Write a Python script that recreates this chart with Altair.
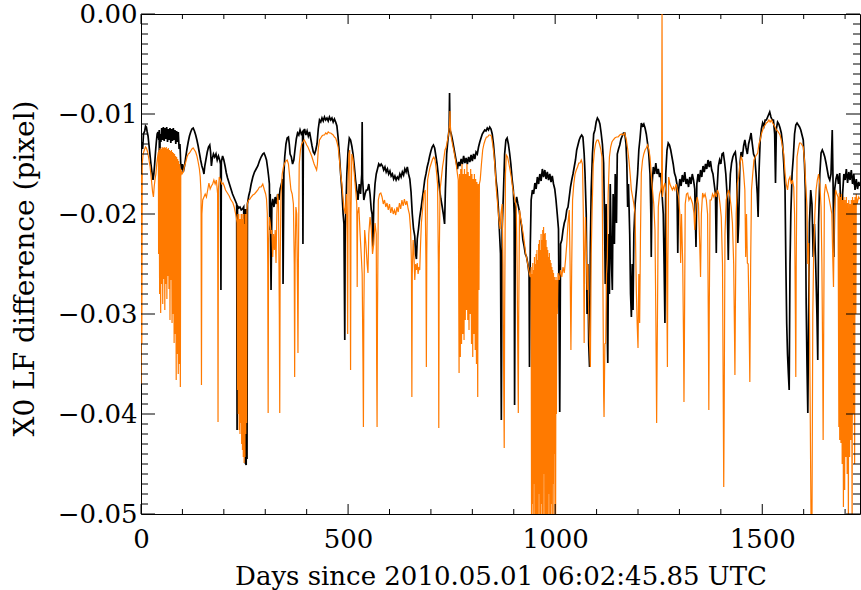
import altair as alt
import pandas as pd

# ---------------- data (day, X0 LF difference) ----------------
black_seg1 = [
    (0, -0.0141), (2, -0.0128), (4, -0.0135), (6, -0.0120), (9, -0.0117), (11, -0.0112), (13, -0.0113),
    (15, -0.0118), (17, -0.0122), (19, -0.0130), (21, -0.0138), (24, -0.0150), (27, -0.0160), (29, -0.0166),
    (31, -0.0160), (33, -0.0150), (35, -0.0138), (37, -0.0128), (39, -0.0120), (41, -0.0118), (43, -0.0126),
    (44, -0.0116), (45, -0.0233), (46, -0.0120), (48, -0.0128), (50, -0.0114), (52, -0.0126), (54, -0.0113),
    (56, -0.0127), (58, -0.0114), (60, -0.0125), (62, -0.0113), (64, -0.0128), (66, -0.0115), (68, -0.0126),
    (70, -0.0114), (72, -0.0129), (74, -0.0115), (76, -0.0127), (78, -0.0114), (80, -0.0126), (82, -0.0116),
    (84, -0.0130), (86, -0.0117), (88, -0.0128), (90, -0.0118), (92, -0.0135), (94, -0.0130), (96, -0.0150),
    (98, -0.0156), (100, -0.0150), (102, -0.0158), (105, -0.0152), (108, -0.0143), (111, -0.0135),
    (114, -0.0128), (117, -0.0122), (120, -0.0118), (123, -0.0115), (126, -0.0114), (129, -0.0117),
    (132, -0.0121), (135, -0.0126), (138, -0.0132), (141, -0.0139), (144, -0.0146), (147, -0.0152),
    (150, -0.0156), (152, -0.0160), (154, -0.0152), (157, -0.0145), (160, -0.0138), (163, -0.0133),
    (166, -0.0131), (168, -0.0138), (170, -0.0152), (172, -0.0145), (175, -0.0140), (178, -0.0143),
    (181, -0.0140), (184, -0.0146), (187, -0.0142), (190, -0.0146), (192, -0.0150), (193, -0.0276),
    (194, -0.0148), (197, -0.0142), (200, -0.0146), (203, -0.0152), (206, -0.0159), (209, -0.0164),
    (212, -0.0168), (215, -0.0172), (218, -0.0176), (221, -0.0180), (224, -0.0183), (227, -0.0186),
    (230, -0.0189), (231, -0.0190), (232, -0.0416), (233, -0.0192), (236, -0.0194), (239, -0.0193),
    (242, -0.0196), (245, -0.0195), (248, -0.0193), (250, -0.0440), (251, -0.0195), (252, -0.0449),
    (254, -0.0451), (255, -0.0195), (256, -0.0445), (257, -0.0190), (260, -0.0182), (263, -0.0177),
    (266, -0.0170), (270, -0.0163), (274, -0.0158), (278, -0.0155), (282, -0.0152), (286, -0.0147),
    (290, -0.0143), (294, -0.0140), (297, -0.0139), (300, -0.0142),
]
black_seg2 = [
    (303, -0.0146), (306, -0.0155), (308, -0.0162), (310, -0.0170), (311, -0.0216), (312, -0.0180),
    (314, -0.0276), (316, -0.0190), (318, -0.0185), (321, -0.0193), (324, -0.0183), (327, -0.0190),
    (330, -0.0180), (333, -0.0186), (336, -0.0175), (339, -0.0170), (342, -0.0165), (343, -0.0270),
    (345, -0.0160), (347, -0.0143), (350, -0.0130), (353, -0.0124), (356, -0.0123), (358, -0.0130),
    (360, -0.0140), (363, -0.0143), (366, -0.0150), (369, -0.0146), (372, -0.0135), (375, -0.0125),
    (378, -0.0119), (381, -0.0121), (384, -0.0116), (387, -0.0120), (390, -0.0118), (391, -0.0230),
    (392, -0.0120), (395, -0.0115), (398, -0.0121), (401, -0.0117), (404, -0.0122), (407, -0.0118),
    (410, -0.0125), (413, -0.0132), (416, -0.0138), (419, -0.0140), (422, -0.0136), (425, -0.0130),
    (428, -0.0115), (431, -0.0106), (434, -0.0108), (437, -0.0104), (440, -0.0107), (443, -0.0103),
    (446, -0.0106), (449, -0.0104), (452, -0.0107), (455, -0.0103), (458, -0.0106), (461, -0.0104),
    (464, -0.0108), (467, -0.0105), (470, -0.0108), (473, -0.0112), (476, -0.0124), (479, -0.0140),
    (482, -0.0160), (485, -0.0176), (488, -0.0200), (490, -0.0210), (492, -0.0326), (493, -0.0215),
    (495, -0.0190), (497, -0.0160), (500, -0.0136), (503, -0.0124), (506, -0.0126), (509, -0.0132),
    (512, -0.0140), (515, -0.0152), (518, -0.0166), (521, -0.0176), (524, -0.0186), (527, -0.0170),
    (530, -0.0180), (533, -0.0160), (534, -0.0108), (535, -0.0165), (538, -0.0186), (541, -0.0180),
    (544, -0.0176), (547, -0.0176), (550, -0.0170), (553, -0.0180), (556, -0.0196), (558, -0.0200),
    (560, -0.0233), (562, -0.0190), (565, -0.0170), (568, -0.0160), (571, -0.0155), (574, -0.0150),
    (577, -0.0152), (580, -0.0150),
]
black_seg3 = [
    (583, -0.0152), (586, -0.0156), (589, -0.0153), (592, -0.0158), (595, -0.0155), (598, -0.0160),
    (601, -0.0157), (604, -0.0162), (607, -0.0160), (610, -0.0165), (613, -0.0162), (616, -0.0166),
    (619, -0.0163), (622, -0.0165), (625, -0.0160), (628, -0.0163), (631, -0.0158), (634, -0.0161),
    (637, -0.0155), (640, -0.0158), (643, -0.0153), (646, -0.0160), (649, -0.0165), (652, -0.0178),
    (655, -0.0200), (658, -0.0215), (661, -0.0222), (663, -0.0240), (665, -0.0245), (667, -0.0225),
    (670, -0.0215), (673, -0.0203), (676, -0.0195), (679, -0.0185), (682, -0.0176), (685, -0.0166),
    (688, -0.0160), (691, -0.0153), (694, -0.0148), (697, -0.0142), (700, -0.0137), (703, -0.0133),
    (706, -0.0131), (709, -0.0134), (712, -0.0142), (715, -0.0150), (718, -0.0162), (721, -0.0176),
    (724, -0.0185), (727, -0.0192), (730, -0.0200), (733, -0.0210), (735, -0.0175), (738, -0.0140),
    (741, -0.0126), (744, -0.0115), (745, -0.0079), (746, -0.0116), (749, -0.0120), (752, -0.0126),
    (755, -0.0133), (758, -0.0140), (761, -0.0147), (764, -0.0155), (767, -0.0148), (770, -0.0152),
    (773, -0.0145), (776, -0.0150), (779, -0.0142), (782, -0.0149), (785, -0.0144), (788, -0.0150),
    (791, -0.0143), (794, -0.0148), (797, -0.0141), (800, -0.0147), (803, -0.0140), (806, -0.0145),
    (809, -0.0138), (812, -0.0140), (815, -0.0133), (818, -0.0128), (821, -0.0124), (824, -0.0120),
    (827, -0.0118), (830, -0.0116), (833, -0.0117), (836, -0.0114), (839, -0.0116), (842, -0.0113),
    (845, -0.0115), (848, -0.0120), (851, -0.0130), (854, -0.0145), (857, -0.0165), (860, -0.0176),
    (863, -0.0195), (866, -0.0222), (868, -0.0240), (870, -0.0406),
]
black_seg4 = [
    (872, -0.0215), (875, -0.0180), (878, -0.0140), (881, -0.0126), (884, -0.0124), (887, -0.0130),
    (890, -0.0139), (893, -0.0150), (896, -0.0165), (899, -0.0176), (901, -0.0200), (902, -0.0391),
    (904, -0.0190), (907, -0.0183), (910, -0.0190), (913, -0.0196), (916, -0.0205), (919, -0.0212),
    (922, -0.0226), (925, -0.0232), (928, -0.0240), (931, -0.0243), (934, -0.0250), (937, -0.0260),
    (938, -0.0353), (940, -0.0230), (942, -0.0186), (945, -0.0176), (948, -0.0180), (951, -0.0169),
    (954, -0.0175), (957, -0.0163), (960, -0.0170), (963, -0.0160), (966, -0.0167), (969, -0.0155),
    (972, -0.0163), (975, -0.0156), (978, -0.0165), (981, -0.0158), (984, -0.0166), (987, -0.0160),
    (990, -0.0168), (993, -0.0162), (996, -0.0170), (999, -0.0175), (1002, -0.0186), (1005, -0.0200),
    (1008, -0.0215), (1011, -0.0398), (1013, -0.0230), (1016, -0.0226), (1019, -0.0216), (1022, -0.0209),
    (1025, -0.0205), (1028, -0.0196), (1031, -0.0193), (1034, -0.0183), (1037, -0.0173), (1040, -0.0166),
    (1043, -0.0160), (1046, -0.0153), (1049, -0.0146), (1052, -0.0136), (1055, -0.0131), (1058, -0.0126),
    (1061, -0.0123), (1064, -0.0121), (1067, -0.0123), (1070, -0.0140), (1072, -0.0159), (1075, -0.0200),
    (1077, -0.0300), (1079, -0.0250), (1081, -0.0330), (1083, -0.0353), (1085, -0.0230), (1087, -0.0176),
    (1090, -0.0140), (1093, -0.0120), (1096, -0.0116), (1099, -0.0108), (1102, -0.0104), (1105, -0.0106),
    (1108, -0.0110), (1111, -0.0119), (1114, -0.0130), (1117, -0.0149), (1119, -0.0200), (1121, -0.0270),
    (1123, -0.0190), (1125, -0.0300), (1127, -0.0349), (1129, -0.0220), (1131, -0.0280), (1133, -0.0170),
    (1136, -0.0250), (1138, -0.0276), (1140, -0.0180), (1143, -0.0230), (1145, -0.0160), (1148, -0.0209),
    (1150, -0.0140), (1153, -0.0135), (1156, -0.0131), (1159, -0.0125), (1162, -0.0122), (1165, -0.0119),
    (1168, -0.0119),
]
black_seg5 = [
    (1171, -0.0130), (1173, -0.0150), (1175, -0.0193), (1177, -0.0170), (1180, -0.0220), (1182, -0.0280),
    (1184, -0.0303), (1186, -0.0250), (1188, -0.0296), (1190, -0.0220), (1193, -0.0190), (1196, -0.0176),
    (1199, -0.0160), (1202, -0.0136), (1205, -0.0124), (1208, -0.0109), (1211, -0.0112), (1214, -0.0110),
    (1217, -0.0114), (1220, -0.0120), (1223, -0.0129), (1226, -0.0140), (1229, -0.0160), (1231, -0.0200),
    (1232, -0.0243), (1234, -0.0170), (1237, -0.0153), (1240, -0.0160), (1243, -0.0149), (1246, -0.0160),
    (1249, -0.0155), (1252, -0.0163), (1255, -0.0159), (1258, -0.0180), (1261, -0.0200), (1263, -0.0250),
    (1265, -0.0309), (1267, -0.0160), (1270, -0.0136), (1273, -0.0129), (1276, -0.0131), (1279, -0.0136),
    (1282, -0.0143), (1285, -0.0150), (1288, -0.0159), (1291, -0.0163), (1294, -0.0170), (1296, -0.0239),
    (1298, -0.0176), (1301, -0.0165), (1304, -0.0172), (1307, -0.0161), (1310, -0.0168), (1313, -0.0158),
    (1316, -0.0170), (1319, -0.0165), (1322, -0.0173), (1325, -0.0163), (1328, -0.0170), (1331, -0.0160),
    (1334, -0.0166), (1337, -0.0175), (1340, -0.0233), (1342, -0.0170), (1345, -0.0160), (1348, -0.0168),
    (1351, -0.0156), (1354, -0.0163), (1357, -0.0152), (1360, -0.0158), (1363, -0.0150), (1366, -0.0155),
    (1369, -0.0146), (1372, -0.0153), (1375, -0.0147), (1378, -0.0156), (1381, -0.0160), (1384, -0.0170),
    (1387, -0.0180), (1389, -0.0239), (1391, -0.0175), (1394, -0.0152), (1397, -0.0146), (1400, -0.0150),
    (1403, -0.0140), (1406, -0.0139), (1409, -0.0148), (1412, -0.0160), (1415, -0.0180), (1418, -0.0246),
    (1420, -0.0190), (1423, -0.0160), (1426, -0.0149), (1429, -0.0143), (1432, -0.0140), (1435, -0.0138),
    (1438, -0.0150), (1441, -0.0229), (1443, -0.0210), (1446, -0.0150), (1449, -0.0138),
]
black_seg6 = [
    (1452, -0.0143), (1455, -0.0132), (1458, -0.0126), (1461, -0.0134), (1464, -0.0140), (1467, -0.0130),
    (1470, -0.0125), (1473, -0.0119), (1476, -0.0130), (1479, -0.0140), (1482, -0.0143), (1485, -0.0160),
    (1488, -0.0180), (1490, -0.0203), (1492, -0.0160), (1495, -0.0126), (1498, -0.0115), (1501, -0.0109),
    (1504, -0.0112), (1507, -0.0106), (1510, -0.0106), (1513, -0.0103), (1516, -0.0100), (1518, -0.0098),
    (1521, -0.0103), (1524, -0.0106), (1527, -0.0106), (1530, -0.0120), (1532, -0.0169), (1534, -0.0115),
    (1537, -0.0108), (1540, -0.0110), (1543, -0.0114), (1546, -0.0119), (1549, -0.0130), (1552, -0.0150),
    (1555, -0.0176), (1557, -0.0250), (1559, -0.0309), (1561, -0.0340), (1563, -0.0359), (1565, -0.0376),
    (1567, -0.0250), (1569, -0.0200), (1572, -0.0160), (1575, -0.0143), (1578, -0.0120), (1581, -0.0111),
    (1584, -0.0109), (1587, -0.0111), (1590, -0.0113), (1593, -0.0116), (1596, -0.0121), (1599, -0.0126),
    (1602, -0.0150), (1604, -0.0176), (1606, -0.0289), (1608, -0.0350), (1610, -0.0399), (1612, -0.0300),
    (1614, -0.0209), (1617, -0.0176), (1620, -0.0190), (1623, -0.0243), (1626, -0.0210), (1629, -0.0250),
    (1632, -0.0300), (1634, -0.0346), (1636, -0.0209), (1639, -0.0160), (1642, -0.0139), (1645, -0.0136),
    (1648, -0.0139), (1651, -0.0143), (1654, -0.0149), (1657, -0.0156), (1660, -0.0163), (1663, -0.0166),
    (1666, -0.0160), (1669, -0.0116), (1671, -0.0170), (1673, -0.0243), (1675, -0.0175), (1678, -0.0165),
    (1681, -0.0160), (1684, -0.0170), (1687, -0.0159), (1690, -0.0200), (1692, -0.0276), (1694, -0.0180),
    (1697, -0.0160), (1700, -0.0166), (1703, -0.0155), (1706, -0.0169), (1709, -0.0158), (1712, -0.0166),
    (1715, -0.0156), (1718, -0.0170), (1721, -0.0160), (1724, -0.0176), (1727, -0.0165), (1730, -0.0175),
    (1733, -0.0168), (1735, -0.0172),
]

orange_seg1 = [
    (0, -0.0370), (1, -0.0160), (2, -0.0330), (3, -0.0150), (5, -0.0140), (8, -0.0136), (11, -0.0133),
    (13, -0.0134), (16, -0.0138), (19, -0.0145), (22, -0.0153), (25, -0.0165), (28, -0.0178), (30, -0.0183),
    (32, -0.0172), (34, -0.0165), (36, -0.0160), (38, -0.0150), (40, -0.0143), (42, -0.0138),
    (42.5, -0.0240), (43.5, -0.0136), (45, -0.0280), (46, -0.0134), (47.5, -0.0299), (48.5, -0.0135),
    (50, -0.0270), (51, -0.0133), (52.5, -0.0290), (53.5, -0.0134), (55, -0.0265), (56, -0.0133),
    (57.5, -0.0296), (58.5, -0.0134), (60, -0.0270), (61, -0.0133), (62.5, -0.0285), (63.5, -0.0135),
    (65, -0.0262), (66, -0.0134), (67.5, -0.0275), (68.5, -0.0136), (70, -0.0306), (71, -0.0137),
    (72.5, -0.0266), (73.5, -0.0136), (75, -0.0309), (76, -0.0138), (77.5, -0.0300), (78.5, -0.0139),
    (80, -0.0329), (81, -0.0140), (82.5, -0.0320), (83.5, -0.0142), (85, -0.0366), (86, -0.0143),
    (87.5, -0.0340), (88.5, -0.0145), (90, -0.0360), (91, -0.0147), (92.5, -0.0350), (93.5, -0.0150),
    (95, -0.0373), (96, -0.0155), (99, -0.0160), (102, -0.0158), (105, -0.0152), (108, -0.0148),
    (111, -0.0143), (114, -0.0140), (117, -0.0139), (120, -0.0137), (123, -0.0135), (126, -0.0134),
    (129, -0.0136), (132, -0.0138), (135, -0.0142), (138, -0.0148), (141, -0.0155), (143, -0.0163),
    (145, -0.0180), (146, -0.0371), (147, -0.0200), (149, -0.0186), (152, -0.0183), (155, -0.0180),
    (158, -0.0183), (161, -0.0176), (164, -0.0169), (167, -0.0175), (170, -0.0172), (173, -0.0170),
    (176, -0.0166), (179, -0.0170), (182, -0.0166), (185, -0.0180), (186, -0.0408), (187, -0.0175),
    (189, -0.0163), (192, -0.0166), (195, -0.0170), (198, -0.0169), (201, -0.0172), (204, -0.0176),
    (207, -0.0178), (210, -0.0180), (213, -0.0182), (216, -0.0185), (219, -0.0187), (222, -0.0189),
    (225, -0.0193), (228, -0.0199), (230, -0.0203), (232, -0.0209),
    (233, -0.0376), (234, -0.0200), (235, -0.0400), (236, -0.0200), (237, -0.0416), (238, -0.0205),
    (239, -0.0420), (240, -0.0205), (241, -0.0409), (242, -0.0200), (243, -0.0430), (244, -0.0200),
    (245, -0.0436), (246, -0.0205), (247, -0.0443), (248, -0.0200), (249, -0.0449), (250, -0.0210),
    (251, -0.0443), (252, -0.0200), (253, -0.0420), (254, -0.0200), (255, -0.0409), (256, -0.0195),
    (257, -0.0189), (260, -0.0186), (263, -0.0185), (266, -0.0183), (270, -0.0181), (274, -0.0180),
    (278, -0.0178), (282, -0.0176), (286, -0.0173), (290, -0.0173), (294, -0.0170), (298, -0.0176),
    (301, -0.0180),
]
orange_seg2 = [
    (303, -0.0185), (305, -0.0200), (306, -0.0250), (307, -0.0399), (308, -0.0230), (310, -0.0203),
    (312, -0.0209), (314, -0.0220), (316, -0.0216), (318, -0.0243), (320, -0.0220), (322, -0.0236),
    (324, -0.0216), (326, -0.0249), (328, -0.0200), (330, -0.0180), (332, -0.0190), (334, -0.0300),
    (335, -0.0399), (336, -0.0250), (338, -0.0180), (341, -0.0160), (344, -0.0153), (347, -0.0149),
    (350, -0.0147), (353, -0.0146), (356, -0.0150), (359, -0.0163), (362, -0.0176), (365, -0.0180),
    (368, -0.0190), (370, -0.0250), (371, -0.0363), (372, -0.0250), (374, -0.0193), (376, -0.0200),
    (378, -0.0280), (379, -0.0339), (380, -0.0250), (382, -0.0150), (385, -0.0136), (388, -0.0130),
    (391, -0.0128), (394, -0.0126), (397, -0.0128), (400, -0.0131), (403, -0.0133), (406, -0.0136),
    (409, -0.0139), (412, -0.0142), (415, -0.0146), (418, -0.0150), (421, -0.0153), (424, -0.0156),
    (426, -0.0150), (428, -0.0135), (431, -0.0126), (434, -0.0124), (437, -0.0122), (440, -0.0121),
    (443, -0.0121), (446, -0.0119), (449, -0.0120), (452, -0.0118), (455, -0.0119), (458, -0.0119),
    (461, -0.0120), (464, -0.0121), (467, -0.0123), (470, -0.0124), (473, -0.0128), (476, -0.0133),
    (479, -0.0145), (482, -0.0160), (485, -0.0170), (488, -0.0185), (490, -0.0193), (493, -0.0200),
    (496, -0.0180), (498, -0.0230), (499, -0.0320), (500, -0.0170), (502, -0.0140), (504, -0.0136),
    (505, -0.0250), (506, -0.0356), (507, -0.0200), (509, -0.0140), (512, -0.0145), (515, -0.0160),
    (518, -0.0175), (521, -0.0190), (522, -0.0273), (523, -0.0200), (526, -0.0193), (529, -0.0220),
    (532, -0.0243), (534, -0.0260), (536, -0.0350), (537, -0.0413), (538, -0.0300), (540, -0.0216),
    (543, -0.0230), (546, -0.0250), (548, -0.0259), (550, -0.0220), (553, -0.0203), (556, -0.0215),
    (559, -0.0240), (562, -0.0230), (565, -0.0209), (568, -0.0220), (569, -0.0350), (570, -0.0413),
    (571, -0.0300), (573, -0.0186), (576, -0.0180), (579, -0.0179),
]
orange_seg3 = [
    (582, -0.0183), (585, -0.0190), (588, -0.0186), (591, -0.0193), (594, -0.0189), (597, -0.0196),
    (600, -0.0190), (603, -0.0199), (606, -0.0193), (609, -0.0200), (612, -0.0196), (615, -0.0201),
    (618, -0.0193), (621, -0.0198), (624, -0.0189), (627, -0.0195), (630, -0.0186), (633, -0.0192),
    (636, -0.0185), (639, -0.0191), (642, -0.0187), (645, -0.0195), (648, -0.0200), (651, -0.0216),
    (653, -0.0250), (654, -0.0383), (655, -0.0260), (657, -0.0226), (659, -0.0240), (661, -0.0266),
    (663, -0.0250), (665, -0.0256), (667, -0.0249), (669, -0.0260), (671, -0.0253), (673, -0.0256),
    (675, -0.0230), (677, -0.0209), (680, -0.0195), (683, -0.0180), (686, -0.0176), (688, -0.0250),
    (689, -0.0353), (690, -0.0240), (692, -0.0166), (695, -0.0159), (698, -0.0153), (701, -0.0149),
    (704, -0.0145), (707, -0.0143), (710, -0.0146), (713, -0.0156), (716, -0.0170), (718, -0.0250),
    (719, -0.0414), (720, -0.0250), (722, -0.0176), (725, -0.0165), (728, -0.0153), (731, -0.0145),
    (734, -0.0136), (737, -0.0133), (740, -0.0126), (743, -0.0119), (745, -0.0110), (746, -0.0097),
    (747, -0.0112), (749, -0.0123), (752, -0.0130), (755, -0.0136), (758, -0.0143), (761, -0.0150),
    (764, -0.0160), (766, -0.0166),
    (768, -0.0359), (769, -0.0160), (771, -0.0343), (772, -0.0155), (774, -0.0330), (775, -0.0150),
    (777, -0.0320), (778, -0.0160), (780, -0.0326), (781, -0.0155), (783, -0.0306), (784, -0.0160),
    (786, -0.0296), (787, -0.0150), (789, -0.0306), (790, -0.0158), (792, -0.0316), (793, -0.0162),
    (795, -0.0300), (796, -0.0155), (798, -0.0330), (799, -0.0160), (801, -0.0343), (802, -0.0165),
    (804, -0.0320), (805, -0.0160), (807, -0.0336), (808, -0.0165), (810, -0.0350), (811, -0.0168),
    (813, -0.0383), (814, -0.0170), (816, -0.0276), (817, -0.0170),
    (819, -0.0166), (822, -0.0150), (825, -0.0136), (828, -0.0130), (831, -0.0126), (834, -0.0123),
    (837, -0.0123), (840, -0.0121), (843, -0.0121), (846, -0.0122), (849, -0.0130), (852, -0.0140),
    (855, -0.0155), (858, -0.0176), (861, -0.0190), (864, -0.0205), (867, -0.0215), (869, -0.0200),
]
orange_seg4 = [
    (872, -0.0190), (874, -0.0250), (876, -0.0380), (877, -0.0434), (878, -0.0300), (880, -0.0160),
    (882, -0.0141), (885, -0.0143), (888, -0.0149), (891, -0.0156), (894, -0.0163), (897, -0.0173),
    (900, -0.0180), (903, -0.0186), (906, -0.0193), (908, -0.0250), (910, -0.0350), (911, -0.0399),
    (912, -0.0300), (914, -0.0196), (917, -0.0205), (920, -0.0213), (923, -0.0220), (926, -0.0230),
    (929, -0.0240), (932, -0.0246), (935, -0.0253), (938, -0.0260), (940, -0.0263),
    (942, -0.0253), (943, -0.0520), (944, -0.0260), (945, -0.0490), (946, -0.0249), (947, -0.0520),
    (948, -0.0256), (949, -0.0470), (950, -0.0243), (951, -0.0520), (952, -0.0250), (953, -0.0520),
    (954, -0.0240), (955, -0.0500), (956, -0.0236), (957, -0.0520), (958, -0.0246), (959, -0.0520),
    (960, -0.0230), (961, -0.0480), (962, -0.0226), (963, -0.0520), (964, -0.0236), (965, -0.0520),
    (966, -0.0220), (967, -0.0490), (968, -0.0226), (969, -0.0520), (970, -0.0216), (971, -0.0520),
    (972, -0.0213), (973, -0.0460), (974, -0.0220), (975, -0.0520), (976, -0.0219), (977, -0.0520),
    (978, -0.0226), (979, -0.0500), (980, -0.0233), (981, -0.0520), (982, -0.0236), (983, -0.0520),
    (984, -0.0243), (985, -0.0480), (986, -0.0239), (987, -0.0520), (988, -0.0246), (989, -0.0520),
    (990, -0.0249), (991, -0.0490), (992, -0.0253), (993, -0.0520), (994, -0.0256), (995, -0.0470),
    (996, -0.0259), (997, -0.0520), (998, -0.0263), (999, -0.0440), (1000, -0.0266), (1001, -0.0520),
    (1002, -0.0263), (1003, -0.0400), (1004, -0.0266), (1005, -0.0300),
    (1007, -0.0259), (1010, -0.0266), (1013, -0.0256), (1016, -0.0263), (1019, -0.0253), (1022, -0.0259),
    (1025, -0.0246), (1028, -0.0230), (1031, -0.0209), (1034, -0.0196), (1036, -0.0250), (1038, -0.0336),
    (1040, -0.0250), (1042, -0.0186), (1045, -0.0170), (1048, -0.0160), (1051, -0.0156), (1054, -0.0153),
    (1057, -0.0149), (1060, -0.0149), (1063, -0.0146), (1066, -0.0150), (1068, -0.0200), (1070, -0.0329),
    (1071, -0.0250), (1073, -0.0203), (1075, -0.0230), (1077, -0.0276), (1079, -0.0250), (1081, -0.0300),
    (1083, -0.0330), (1085, -0.0353), (1087, -0.0240), (1089, -0.0200), (1092, -0.0150), (1095, -0.0136),
    (1098, -0.0129), (1101, -0.0126), (1104, -0.0126), (1107, -0.0130), (1110, -0.0135), (1113, -0.0143),
    (1115, -0.0250), (1117, -0.0380), (1118, -0.0403), (1120, -0.0330), (1122, -0.0329), (1124, -0.0260),
    (1126, -0.0243), (1128, -0.0180), (1131, -0.0143), (1134, -0.0133), (1137, -0.0128), (1140, -0.0126),
    (1144, -0.0124), (1148, -0.0123), (1152, -0.0123), (1156, -0.0121), (1160, -0.0120), (1164, -0.0121),
    (1168, -0.0119),
]
orange_seg5 = [
    (1172, -0.0126), (1175, -0.0135), (1178, -0.0146), (1181, -0.0160), (1184, -0.0176), (1187, -0.0183),
    (1190, -0.0190), (1193, -0.0200), (1196, -0.0276), (1198, -0.0310), (1200, -0.0334), (1202, -0.0260),
    (1204, -0.0309), (1206, -0.0220), (1208, -0.0159), (1211, -0.0146), (1214, -0.0140), (1217, -0.0136),
    (1220, -0.0134), (1223, -0.0131), (1226, -0.0135), (1229, -0.0143), (1232, -0.0160), (1235, -0.0176),
    (1238, -0.0190), (1241, -0.0216), (1243, -0.0300), (1245, -0.0409), (1247, -0.0300), (1249, -0.0193),
    (1252, -0.0180), (1255, -0.0176), (1257, -0.0170), (1258, 0.0003), (1259, -0.0183), (1262, -0.0173),
    (1265, -0.0169), (1268, -0.0180), (1270, -0.0300), (1271, -0.0353), (1272, -0.0250), (1274, -0.0163),
    (1277, -0.0170), (1280, -0.0173), (1283, -0.0176), (1286, -0.0173), (1289, -0.0176), (1292, -0.0170),
    (1295, -0.0176), (1298, -0.0183), (1301, -0.0200), (1303, -0.0249), (1305, -0.0200), (1308, -0.0250),
    (1310, -0.0330), (1311, -0.0388), (1312, -0.0330), (1314, -0.0190), (1317, -0.0180), (1320, -0.0179),
    (1323, -0.0186), (1326, -0.0183), (1329, -0.0186), (1332, -0.0190), (1335, -0.0199), (1337, -0.0216),
    (1340, -0.0190), (1343, -0.0183), (1346, -0.0190), (1349, -0.0230), (1351, -0.0263), (1353, -0.0200),
    (1356, -0.0179), (1359, -0.0183), (1362, -0.0180), (1365, -0.0186), (1368, -0.0200), (1370, -0.0320),
    (1371, -0.0396), (1372, -0.0300), (1374, -0.0186), (1377, -0.0186), (1380, -0.0180), (1383, -0.0183),
    (1386, -0.0179), (1389, -0.0183), (1392, -0.0176), (1395, -0.0180), (1398, -0.0190), (1401, -0.0203),
    (1404, -0.0250), (1406, -0.0400), (1407, -0.0473), (1408, -0.0400), (1410, -0.0220), (1413, -0.0186),
    (1416, -0.0180), (1419, -0.0176), (1422, -0.0183), (1425, -0.0193), (1428, -0.0209), (1431, -0.0250),
    (1433, -0.0320), (1434, -0.0361), (1435, -0.0300), (1437, -0.0200), (1440, -0.0169), (1443, -0.0163),
    (1446, -0.0150), (1449, -0.0143),
]
orange_seg6 = [
    (1452, -0.0146), (1455, -0.0159), (1458, -0.0176), (1460, -0.0243), (1462, -0.0200), (1464, -0.0249),
    (1466, -0.0250), (1468, -0.0300), (1470, -0.0368), (1472, -0.0250), (1474, -0.0176), (1477, -0.0160),
    (1480, -0.0146), (1483, -0.0143), (1486, -0.0141), (1489, -0.0139), (1492, -0.0130), (1495, -0.0126),
    (1498, -0.0120), (1501, -0.0116), (1504, -0.0113), (1507, -0.0111), (1510, -0.0109), (1513, -0.0108),
    (1516, -0.0106), (1519, -0.0108), (1522, -0.0106), (1525, -0.0109), (1528, -0.0111), (1531, -0.0113),
    (1534, -0.0116), (1537, -0.0117), (1540, -0.0119), (1543, -0.0121), (1546, -0.0126), (1549, -0.0133),
    (1552, -0.0140), (1555, -0.0159), (1558, -0.0170), (1561, -0.0176), (1564, -0.0166), (1567, -0.0163),
    (1570, -0.0170), (1573, -0.0166), (1576, -0.0173), (1578, -0.0200), (1580, -0.0300), (1581, -0.0363),
    (1582, -0.0250), (1584, -0.0143), (1587, -0.0135), (1590, -0.0129), (1593, -0.0129), (1596, -0.0131),
    (1599, -0.0133), (1602, -0.0146), (1605, -0.0170), (1608, -0.0193), (1610, -0.0250), (1612, -0.0229),
    (1614, -0.0300), (1616, -0.0409), (1618, -0.0520), (1620, -0.0520), (1622, -0.0300), (1624, -0.0243),
    (1627, -0.0200), (1630, -0.0176), (1633, -0.0166), (1636, -0.0160), (1639, -0.0170), (1642, -0.0193),
    (1644, -0.0250), (1646, -0.0350), (1647, -0.0426), (1648, -0.0350), (1650, -0.0180), (1653, -0.0170),
    (1656, -0.0176), (1659, -0.0180), (1662, -0.0186), (1665, -0.0193), (1668, -0.0200), (1670, -0.0240),
    (1672, -0.0273), (1674, -0.0200), (1677, -0.0176), (1680, -0.0180), (1683, -0.0183),
    (1685, -0.0413), (1686, -0.0179), (1687, -0.0426), (1688, -0.0183), (1690, -0.0429), (1691, -0.0180),
    (1693, -0.0450), (1694, -0.0186), (1696, -0.0493), (1697, -0.0183), (1699, -0.0476), (1700, -0.0186),
    (1702, -0.0443), (1703, -0.0183), (1705, -0.0460), (1706, -0.0189), (1708, -0.0520), (1709, -0.0186),
    (1711, -0.0443), (1712, -0.0190), (1714, -0.0426), (1715, -0.0186), (1717, -0.0520), (1718, -0.0183),
    (1720, -0.0400), (1721, -0.0186), (1723, -0.0450), (1724, -0.0183), (1726, -0.0300), (1727, -0.0180),
    (1729, -0.0190), (1731, -0.0186), (1733, -0.0183), (1735, -0.0185),
]

x_major = [0, 500, 1000, 1500]
x_minor = [d for d in range(100, 1800, 100) if d % 500 != 0]
y_major = [0.0, -0.01, -0.02, -0.03, -0.04, -0.05]
y_minor = [round(-k / 1000.0, 3) for k in range(1, 50) if k % 10 != 0]

X_TITLE = "Days since 2010.05.01 06:02:45.85 UTC"
Y_TITLE = "X0 LF difference (pixel)"

# ---------------- chart ----------------
W, H = 719, 500
FONT = "DejaVu Serif"
XS = alt.Scale(domain=[0, 1736], nice=False, zero=False)
YS = alt.Scale(domain=[-0.05, 0.0], nice=False, zero=False)

black = pd.DataFrame(black_seg1 + black_seg2 + black_seg3 + black_seg4 + black_seg5 + black_seg6,
                     columns=["day", "value"])
orange = pd.DataFrame(orange_seg1 + orange_seg2 + orange_seg3 + orange_seg4 + orange_seg5 + orange_seg6,
                      columns=["day", "value"])

x_axis = alt.Axis(values=x_major, format="d", title=X_TITLE, labelFontSize=26, titleFontSize=26,
                  labelPadding=12, labelFlush=False, labelOverlap=False,
                  titleY=62, titleBaseline="middle")
y_axis = alt.Axis(values=y_major, format=".2f", title=Y_TITLE, labelFontSize=26, titleFontSize=28,
                  labelPadding=4, labelFlush=False, labelOverlap=False,
                  titleX=-116, titleY=H / 2 + 4, titleAngle=270, titleAlign="center", titleBaseline="middle")

black_line = alt.Chart(black).mark_line(color="#000000", strokeWidth=1.7, clip=True).encode(
    x=alt.X("day:Q", scale=XS, axis=x_axis),
    y=alt.Y("value:Q", scale=YS, axis=y_axis),
)
orange_line = alt.Chart(orange).mark_line(color="#ff7a00", strokeWidth=1.2, clip=True).encode(
    x=alt.X("day:Q", scale=XS, axis=x_axis),
    y=alt.Y("value:Q", scale=YS, axis=y_axis),
)


def xticks(vals, y0, y1):
    return alt.Chart(pd.DataFrame({"day": vals})).mark_rule(color="#000000", strokeWidth=1).encode(
        x=alt.X("day:Q", scale=XS, axis=x_axis), y=alt.value(y0), y2=alt.value(y1))


def yticks(vals, x0, x1):
    return alt.Chart(pd.DataFrame({"value": vals})).mark_rule(color="#000000", strokeWidth=1).encode(
        y=alt.Y("value:Q", scale=YS, axis=y_axis), x=alt.value(x0), x2=alt.value(x1))


ticks = [
    xticks(x_major, H, H - 10), xticks(x_minor, H, H - 5),
    xticks(x_major, 0, 10), xticks(x_minor, 0, 5),
    yticks(y_major, 0, 14), yticks(y_minor, 0, 7),
    yticks(y_major, W, W - 14), yticks(y_minor, W, W - 7),
]

chart = alt.layer(black_line, orange_line, *ticks).properties(
    width=W, height=H,
    padding={"left": 141, "top": 14, "right": 1, "bottom": 76},
    autosize=alt.AutoSizeParams(type="none"),
    background="white",
).configure_view(
    stroke="#000000", strokeWidth=1,
).configure_axis(
    labelFont=FONT, titleFont=FONT, labelColor="#000000", titleColor="#000000",
    titleFontWeight="normal", grid=False, domain=False, ticks=False,
)

chart.save("out.html", embed_options={"renderer": "svg", "actions": False})
